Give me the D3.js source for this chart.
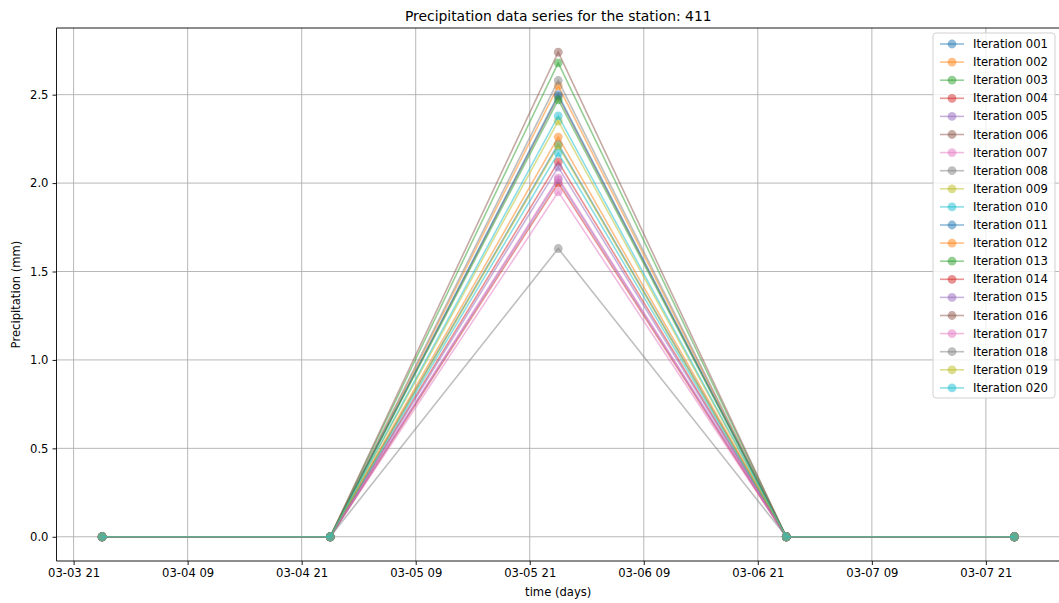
<!DOCTYPE html>
<html>
<head>
<meta charset="utf-8">
<script src="https://cdn.jsdelivr.net/npm/d3@7"></script>
<style>
body{margin:0;background:#fff;}
text{font-family:"DejaVu Sans",sans-serif;fill:#000;}
</style>
</head>
<body>
<div id="chart"></div>
<script>
// time stamps of the observations (UTC)
var times = ["2021-03-04T00:00:00Z","2021-03-05T00:00:00Z","2021-03-06T00:00:00Z","2021-03-07T00:00:00Z","2021-03-08T00:00:00Z"];

var iterations = ["Iteration 001","Iteration 002","Iteration 003","Iteration 004","Iteration 005",
	"Iteration 006","Iteration 007","Iteration 008","Iteration 009","Iteration 010",
	"Iteration 011","Iteration 012","Iteration 013","Iteration 014","Iteration 015",
	"Iteration 016","Iteration 017","Iteration 018","Iteration 019","Iteration 020"];

// precipitation (mm) per iteration, one value per time stamp
var it001 = [0, 0, 2.22, 0, 0];
var it002 = [0, 0, 2.55, 0, 0];
var it003 = [0, 0, 2.68, 0, 0];
var it004 = [0, 0, 2.12, 0, 0];
var it005 = [0, 0, 2.09, 0, 0];
var it006 = [0, 0, 2.49, 0, 0];
var it007 = [0, 0, 1.95, 0, 0];
var it008 = [0, 0, 2.58, 0, 0];
var it009 = [0, 0, 2.21, 0, 0];
var it010 = [0, 0, 2.17, 0, 0];
var it011 = [0, 0, 2.50, 0, 0];
var it012 = [0, 0, 2.26, 0, 0];
var it013 = [0, 0, 2.47, 0, 0];
var it014 = [0, 0, 2.00, 0, 0];
var it015 = [0, 0, 2.02, 0, 0];
var it016 = [0, 0, 2.74, 0, 0];
var it017 = [0, 0, 2.03, 0, 0];
var it018 = [0, 0, 1.63, 0, 0];
var it019 = [0, 0, 2.35, 0, 0];
var it020 = [0, 0, 2.38, 0, 0];
var values = [it001,it002,it003,it004,it005,it006,it007,it008,it009,it010,
	it011,it012,it013,it014,it015,it016,it017,it018,it019,it020];

var xTicks = ["2021-03-03T21:00:00Z","2021-03-04T09:00:00Z","2021-03-04T21:00:00Z","2021-03-05T09:00:00Z",
	"2021-03-05T21:00:00Z","2021-03-06T09:00:00Z","2021-03-06T21:00:00Z","2021-03-07T09:00:00Z","2021-03-07T21:00:00Z"];
var yTicks = [0, 0.5, 1.0, 1.5, 2.0, 2.5];

var colors = ["#1f77b4","#ff7f0e","#2ca02c","#d62728","#9467bd","#8c564b","#e377c2","#7f7f7f","#bcbd22","#17becf"];

function drawchart(){

var W = 1059, H = 603;
var pL = 56.5, pR = 1060, pT = 28, pB = 561;

var dates = times.map(function(t){ return new Date(t); });

// matplotlib style 5% margins
var t0 = +dates[0], t1 = +dates[dates.length-1];
var tpad = (t1 - t0) * 0.05;
var ymax = d3.max(values, function(v){ return d3.max(v); });
var ypad = ymax * 0.05;

var x = d3.scaleUtc()
	.domain([new Date(t0 - tpad), new Date(t1 + tpad)])
	.range([pL, pR]);
var y = d3.scaleLinear()
	.domain([-ypad, ymax + ypad])
	.range([pB, pT]);

var svg = d3.select("#chart")
	.append("svg")
	.attr("width", W)
	.attr("height", H);

svg.append("rect")
	.attr("width", W)
	.attr("height", H)
	.attr("fill", "#fff");

// grid
var grid = svg.append("g");
grid.selectAll("line.gx")
	.data(xTicks)
	.enter()
	.append("line")
	.attr("x1", function(d){ return x(new Date(d)); })
	.attr("x2", function(d){ return x(new Date(d)); })
	.attr("y1", pT)
	.attr("y2", pB)
	.attr("stroke", "#b0b0b0")
	.attr("stroke-width", 0.9);
grid.selectAll("line.gy")
	.data(yTicks)
	.enter()
	.append("line")
	.attr("x1", pL)
	.attr("x2", pR)
	.attr("y1", function(d){ return y(d); })
	.attr("y2", function(d){ return y(d); })
	.attr("stroke", "#b0b0b0")
	.attr("stroke-width", 0.9);

// series
var line = d3.line()
	.x(function(d,i){ return x(dates[i]); })
	.y(function(d){ return y(d); });

values.forEach(function(v, k){
	var c = colors[k % 10];
	var g = svg.append("g");
	g.append("path")
		.attr("d", line(v))
		.attr("fill", "none")
		.attr("stroke", c)
		.attr("stroke-opacity", 0.5)
		.attr("stroke-width", 1.6);
	g.selectAll("circle")
		.data(v)
		.enter()
		.append("circle")
		.attr("cx", function(d,i){ return x(dates[i]); })
		.attr("cy", function(d){ return y(d); })
		.attr("r", 4.4)
		.attr("fill", c)
		.attr("fill-opacity", 0.5);
});

// axes
var xAxis = d3.axisBottom(x)
	.tickValues(xTicks.map(function(d){ return new Date(d); }))
	.tickFormat(d3.utcFormat("%m-%d %H"))
	.tickSize(4)
	.tickPadding(4);
var yAxis = d3.axisLeft(y)
	.tickValues(yTicks)
	.tickFormat(d3.format(".1f"))
	.tickSize(4)
	.tickPadding(4);

var gx = svg.append("g")
	.attr("transform", "translate(0," + pB + ")")
	.call(xAxis);
var gy = svg.append("g")
	.attr("transform", "translate(" + pL + ",0)")
	.call(yAxis);
[gx, gy].forEach(function(a){
	a.select(".domain").remove();
	a.selectAll("text").attr("font-size", "11.6px").attr("font-family", "DejaVu Sans").attr("fill", "#000");
	a.selectAll("line").attr("stroke", "#000").attr("stroke-width", 0.9);
});

// spines
svg.append("line").attr("x1", pL).attr("x2", pL).attr("y1", pT).attr("y2", pB)
	.attr("stroke", "#000").attr("stroke-width", 0.9);
svg.append("line").attr("x1", pL).attr("x2", pR).attr("y1", pB).attr("y2", pB)
	.attr("stroke", "#000").attr("stroke-width", 0.9);
svg.append("line").attr("x1", pL).attr("x2", pR).attr("y1", pT).attr("y2", pT)
	.attr("stroke", "#000").attr("stroke-width", 0.9);

// labels
svg.append("text")
	.attr("x", (pL + pR) / 2)
	.attr("y", 21)
	.attr("text-anchor", "middle")
	.attr("font-size", "13.9px")
	.text("Precipitation data series for the station: 411");
svg.append("text")
	.attr("x", (pL + pR) / 2)
	.attr("y", 596)
	.attr("text-anchor", "middle")
	.attr("font-size", "11.6px")
	.text("time (days)");
svg.append("text")
	.attr("transform", "translate(20," + ((pT + pB) / 2) + ") rotate(-90)")
	.attr("text-anchor", "middle")
	.attr("font-size", "11.6px")
	.text("Precipitation (mm)");

// legend
var lx = 933, ly = 33, lh = 18.1;
var lg = svg.append("g");
lg.append("rect")
	.attr("x", lx)
	.attr("y", ly)
	.attr("width", 122)
	.attr("height", 365)
	.attr("rx", 3)
	.attr("fill", "#fff")
	.attr("fill-opacity", 0.8)
	.attr("stroke", "#ccc")
	.attr("stroke-width", 0.9);
var items = lg.selectAll("g.item")
	.data(iterations)
	.enter()
	.append("g")
	.attr("transform", function(d,i){ return "translate(" + lx + "," + (ly + 11 + i * lh) + ")"; });
items.append("line")
	.attr("x1", 7)
	.attr("x2", 31)
	.attr("stroke", function(d,i){ return colors[i % 10]; })
	.attr("stroke-opacity", 0.5)
	.attr("stroke-width", 1.6);
items.append("circle")
	.attr("cx", 19)
	.attr("r", 4.4)
	.attr("fill", function(d,i){ return colors[i % 10]; })
	.attr("fill-opacity", 0.5);
items.append("text")
	.attr("x", 40)
	.attr("y", 4)
	.attr("font-size", "11.6px")
	.text(function(d){ return d; });
}

drawchart();
</script>
</body>
</html>
